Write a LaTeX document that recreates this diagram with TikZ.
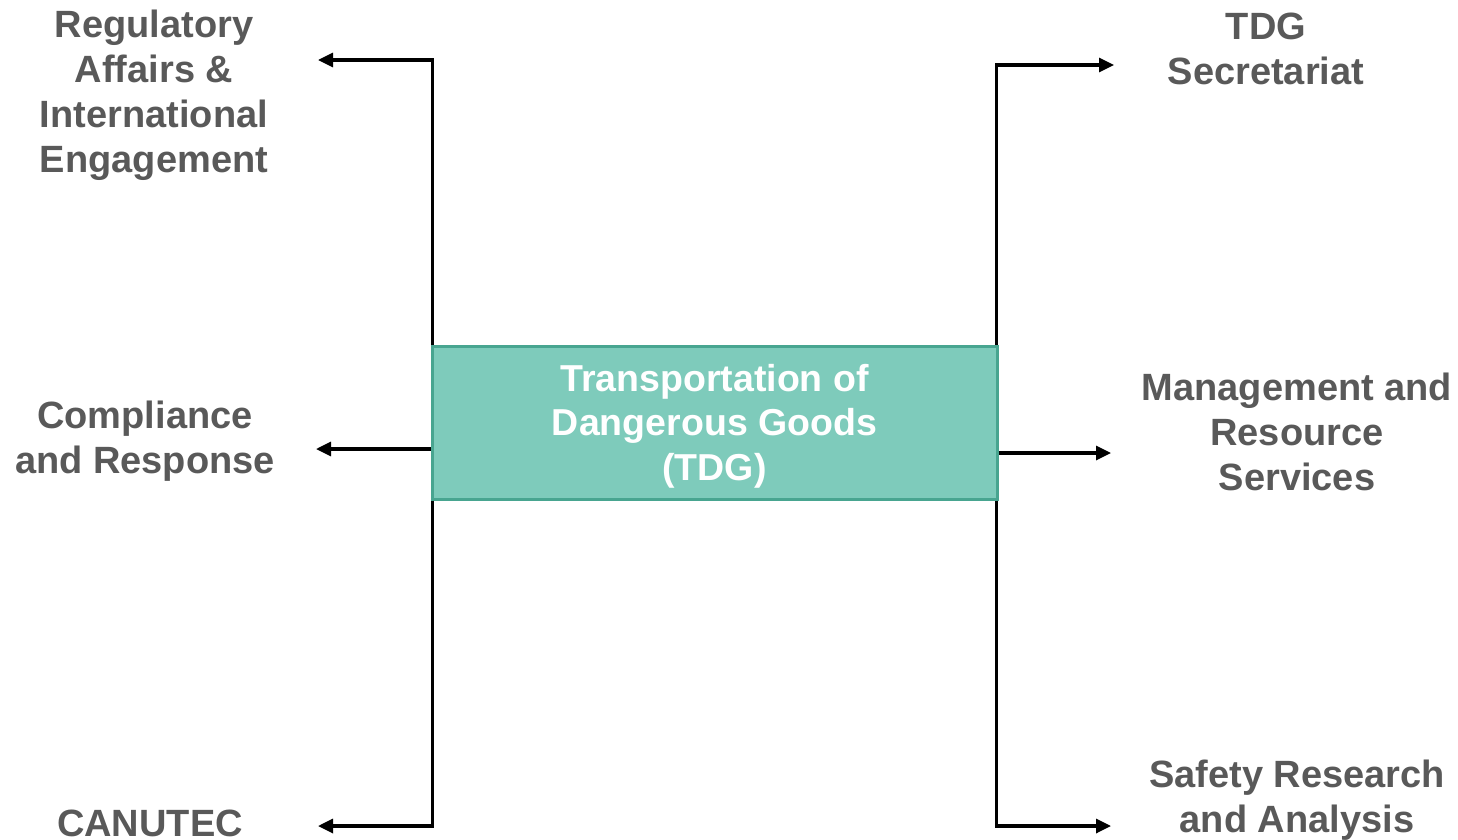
\documentclass[tikz,border=0pt]{standalone}
\usepackage{fontspec}
\setmainfont{Liberation Sans}
\usepackage{xcolor}
\usetikzlibrary{arrows.meta, positioning}
\definecolor{boxteal}{RGB}{126, 203, 187}
\definecolor{boxedge}{RGB}{72, 165, 144}
\definecolor{labelgray}{RGB}{89, 89, 89}

\begin{document}
\begin{tikzpicture}[
    x=1pt, y=-1pt,
    unit/.style={font=\fontsize{38}{45}\selectfont\bfseries, text=labelgray, align=center, inner sep=0pt},
    hub/.style={rectangle, draw=boxedge, line width=3pt, fill=boxteal, minimum width=565pt, minimum height=153pt},
    hubtext/.style={text=white, font=\fontsize{37.5}{44.5}\selectfont\bfseries, align=center, inner sep=0pt},
    arrow/.style={-{Triangle[length=15pt, width=14pt]}, line width=3.2pt, black}
]
\useasboundingbox (0,0) rectangle (1458,839);

% Central box
\node[hub] (tdg) at (714.5,422.5) {};
\node[hubtext] (tdgtext) at (714.5,426) {Transportation of\\Dangerous Goods\\(TDG)};

% Left units
\node[unit] (reg) at (154,95) {Regulatory\\Affairs \&\\International\\Engagement};
\node[unit] (comp) at (145,441) {Compliance\\and Response};
\node[unit, text depth=0pt, anchor=base] (canu) at (150,836) {CANUTEC};

% Right units
\node[unit] (sec) at (1266,49) {TDG\\Secretariat};
\node[unit] (mgmt) at (1297,432) {Management and\\Resource\\Services};
\node[unit] (safe) at (1297,800) {Safety Research\\and Analysis};

% Arrow ends
\coordinate (regend) at (318,60);
\coordinate (compend) at (316,449);
\coordinate (canuend) at (318,826);
\coordinate (secend) at (1114,65);
\coordinate (mgmtend) at (1111,453);
\coordinate (safeend) at (1111,826);

% Connectors
\draw[arrow] ([xshift=2pt]tdg.north west) |- (regend);
\draw[arrow] (tdg.west |- compend) -- (compend);
\draw[arrow] ([xshift=2pt]tdg.south west) |- (canuend);
\draw[arrow] ([xshift=-2pt]tdg.north east) |- (secend);
\draw[arrow] (tdg.east |- mgmtend) -- (mgmtend);
\draw[arrow] ([xshift=-2pt]tdg.south east) |- (safeend);

\end{tikzpicture}
\end{document}
